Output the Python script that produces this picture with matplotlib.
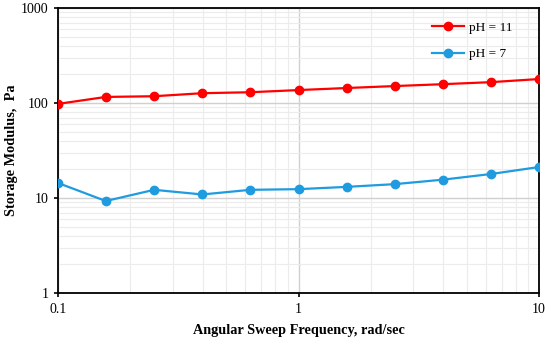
import matplotlib
matplotlib.use("Agg")
import matplotlib.pyplot as plt
from matplotlib.ticker import FixedLocator, LogLocator, NullFormatter

plt.rcParams["font.family"] = ["Liberation Serif", "DejaVu Serif"]

freq = [0.1, 0.158, 0.251, 0.398, 0.631, 1.0, 1.585, 2.512, 3.981, 6.31, 10.0]
g_ph11 = [98, 116, 118, 127, 130, 137, 144, 151, 158, 166, 179]
g_ph7 = [14.4, 9.3, 12.2, 10.9, 12.2, 12.4, 13.1, 14.0, 15.6, 17.9, 21.2]

fig = plt.figure(figsize=(5.5, 3.37), dpi=100)
ax = fig.add_axes([0.1055, 0.1306, 0.8745, 0.8454])

ax.plot(freq, g_ph11, "-o", color="#ff0000", lw=1.6, ms=6, label="pH = 11", zorder=3)
ax.plot(freq, g_ph7, "-o", color="#1f9be0", lw=1.6, ms=6, label="pH = 7", zorder=3)

ax.set_xscale("log")
ax.set_yscale("log")
ax.set_xlim(0.1, 10)
ax.set_ylim(1, 1000)

ax.xaxis.set_major_locator(FixedLocator([0.1, 1, 10]))
ax.yaxis.set_major_locator(FixedLocator([1, 10, 100, 1000]))
ax.set_xticklabels(["0.1", "1", "10"])
ax.set_yticklabels(["1", "10", "100", "1000"])
ax.xaxis.set_minor_locator(LogLocator(base=10, subs=range(2, 10)))
ax.yaxis.set_minor_locator(LogLocator(base=10, subs=range(2, 10)))
ax.xaxis.set_minor_formatter(NullFormatter())
ax.yaxis.set_minor_formatter(NullFormatter())

ax.grid(True, which="major", color="#d0d0d0", lw=1)
ax.grid(True, which="minor", color="#ececec", lw=0.8)
ax.set_axisbelow(True)

ax.tick_params(which="major", direction="out", length=3, width=1.2, labelsize=10)
ax.tick_params(which="minor", length=0)
ax.tick_params(axis="x", pad=4)
ax.tick_params(axis="y", pad=4)
for s in ax.spines.values():
    s.set_linewidth(1.3)
    s.set_color("black")

ax.set_xlabel("Angular Sweep Frequency, rad/sec", fontsize=10.3, fontweight="bold", labelpad=6)
ax.set_ylabel("Storage Modulus,  Pa", fontsize=10.3, fontweight="bold", labelpad=2)

ax.legend(loc="upper right", frameon=False, fontsize=9.5, handlelength=2.4,
          labelspacing=1.1, bbox_to_anchor=(0.97, 0.995), handletextpad=0.4)

fig.savefig("out.png", dpi=100)
